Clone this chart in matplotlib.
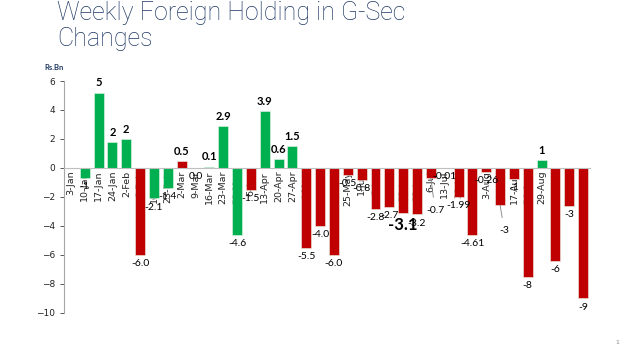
import matplotlib
matplotlib.use("Agg")
import matplotlib.pyplot as plt

# weekly change in foreign holding of G-Sec, Rs.Bn
weeks = ["3-Jan", "10-Jan", "17-Jan", "24-Jan", "2-Feb", "9-Feb", "16-Feb", "23-Feb",
         "2-Mar", "9-Mar", "16-Mar", "23-Mar", "30-Mar", "6-Apr", "13-Apr", "20-Apr",
         "27-Apr", "4-May", "11-May", "18-May", "25-May", "1-Jun", "8-Jun", "15-Jun",
         "22-Jun", "29-Jun", "6-Jul", "13-Jul", "20-Jul", "27-Jul", "3-Aug", "10-Aug",
         "17-Aug", "24-Aug", "29-Aug", "5-Sep", "12-Sep", "19-Sep"]
values = [0.0, -0.7, 5.2, 1.8, 2.0, -6.0, -2.1, -1.4,
          0.5, 0.0, 0.1, 2.9, -4.6, -1.5, 3.9, 0.6,
          1.5, -5.5, -4.0, -6.0, -0.5, -0.8, -2.8, -2.7,
          -3.1, -3.2, -0.7, -0.01, -1.99, -4.61, -0.28, -2.55,
          -0.76, -7.5, 0.55, -6.4, -2.6, -9.0]
labels = ["", "-1", "5", "2", "2", "-6.0", "-2.1", "-1.4",
          "0.5", "0.0", "0.1", "2.9", "-4.6", "-1.5", "3.9", "0.6",
          "1.5", "-5.5", "-4.0", "-6.0", "-0.5", "-0.8", "-2.8", "-2.7",
          "-3.1", "-3.2", "-0.7", "-0.01", "-1.99", "-4.61", "-0.26", "-3",
          "-1", "-8", "1", "-6", "-3", "-9"]
colour = "rggggrggrrgggrggg" + "r" * 17 + "grrr"

RED = "#C00000"
GREEN = "#00B050"
NAVY = "#1F3864"

fig = plt.figure(figsize=(6.4, 3.6), dpi=100)
ax = fig.add_axes([0.1, 0.1306, 0.822, 0.6444])

x = list(range(len(weeks)))
cols = [GREEN if c == "g" else RED for c in colour]
ax.bar(x, values, width=0.72, color=cols, edgecolor="#E8F5E8", linewidth=0.4, zorder=2)

ax.set_xlim(-0.5, len(weeks) - 0.5)
ax.set_ylim(-10, 6)
ax.set_yticks(range(-10, 7, 2))
ax.tick_params(axis="y", labelsize=6.5, colors="#404040", length=3, width=0.6,
               labelcolor="#222222")

ax.spines["top"].set_visible(False)
ax.spines["right"].set_visible(False)
ax.spines["left"].set_color("#A6A6A6")
ax.spines["left"].set_linewidth(0.8)
ax.spines["bottom"].set_position(("data", 0))
ax.spines["bottom"].set_color("#BFBFBF")
ax.spines["bottom"].set_linewidth(0.8)
ax.set_xticks(x)
ax.set_xticklabels(weeks, rotation=90, fontsize=6.8, color="#222222")
ax.tick_params(axis="x", length=0, pad=2)
for t in ax.get_xticklabels():
    t.set_zorder(3)

# labels that were moved away from their bars, with a leader line
leaders = {26: -2.9, 31: -4.3}

for i, (v, lab) in enumerate(zip(values, labels)):
    if lab == "":
        continue
    if i in leaders:
        ax.annotate(lab, xy=(i, v), xytext=(i + 0.3, leaders[i]), ha="center", va="center",
                    fontsize=7.5, fontfamily="Lato",
                    arrowprops=dict(arrowstyle="-", color="#808080", lw=0.6,
                                    shrinkA=4, shrinkB=0))
        continue
    if v > 0:
        ax.annotate(lab, (i, v), xytext=(0, 3), textcoords="offset points",
                    ha="center", va="bottom", fontsize=8, fontweight="bold",
                    fontfamily="Lato", zorder=4)
    else:
        big = lab == "-3.1"
        ax.annotate(lab, (i, v), xytext=(0, -3), textcoords="offset points",
                    ha="center", va="top", fontsize=12 if big else 7.5,
                    fontweight="bold" if big else "normal",
                    fontfamily="Lato", zorder=5 if big else 4)

fig.text(0.089, 0.998, "Weekly Foreign Holding in G-Sec\nChanges", ha="left", va="top",
         fontsize=18, color=NAVY, fontfamily="Roboto", fontweight="light",
         linespacing=1.12)
fig.text(0.07, 0.805, "Rs.Bn", fontsize=5.5, color=NAVY, fontweight="bold",
         fontfamily="Lato")
fig.text(0.962, 0.045, "1", fontsize=4.5, color="#888888")

fig.savefig("out.png", dpi=100)
